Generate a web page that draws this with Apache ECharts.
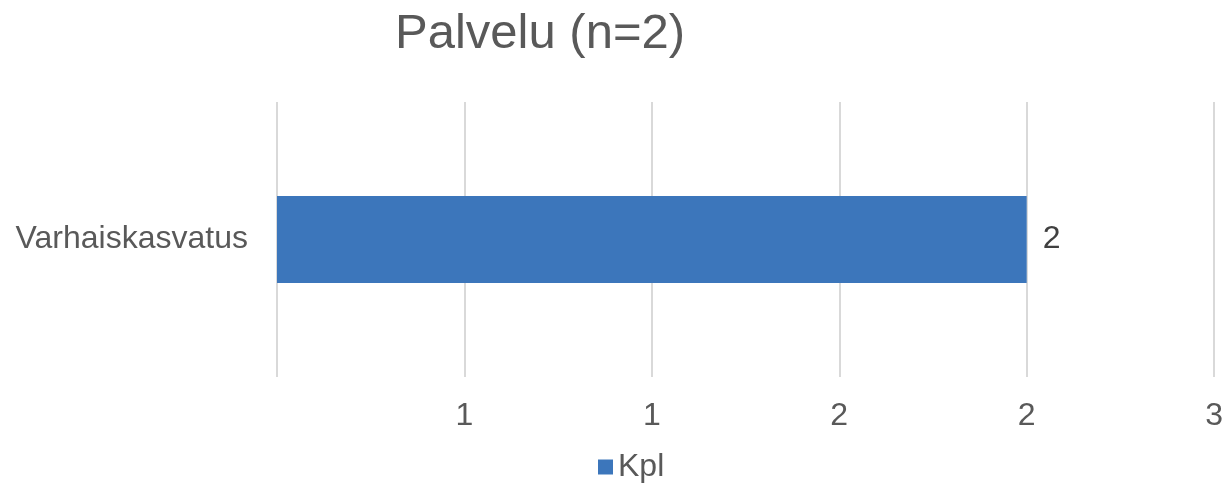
<!DOCTYPE html>
<html>
<head>
<meta charset="utf-8">
<script src="https://cdn.jsdelivr.net/npm/echarts@6/dist/echarts.min.js"></script>
<style>
    html, body { margin: 0; padding: 0; background: #fff; }
    #chart { width: 1226px; height: 492px; }
</style>
</head>
<body>
<div id="chart"></div>
<script>
// data
var categories = ['Varhaiskasvatus'];
var kplValues = [2];
var tickLabels = ['', '1', '1', '2', '2', '3'];

var tickStep = 0.5;

var chart = echarts.init(document.getElementById('chart'));
chart.setOption({
    animation: false,
    title: {
        text: 'Palvelu (n=2)',
        left: 395,
        top: 10,
        padding: 0,
        textStyle: {
            fontFamily: 'Liberation Sans',
            fontSize: 49,
            fontWeight: 'normal',
            color: '#595959'
        }
    },
    legend: {
        data: ['Kpl'],
        top: 451,
        left: 598,
        padding: 0,
        itemWidth: 15,
        itemHeight: 15,
        itemGap: 7,
        icon: 'rect',
        textStyle: {
            fontFamily: 'Liberation Sans',
            fontSize: 32,
            color: '#595959'
        }
    },
    grid: {
        left: 277,
        right: 10,
        top: 102,
        bottom: 115
    },
    xAxis: {
        type: 'value',
        min: 0,
        max: 2.5,
        interval: tickStep,
        axisLine: { show: false },
        axisTick: { show: false },
        splitLine: { lineStyle: { color: '#d9d9d9', width: 2 } },
        axisLabel: {
            margin: 23,
            fontFamily: 'Liberation Sans',
            fontSize: 32,
            color: '#595959',
            formatter: function (value) {
                var idx = Math.round(value / tickStep);
                return tickLabels[idx] || '';
            }
        }
    },
    yAxis: {
        type: 'category',
        data: categories,
        axisLine: { show: false },
        axisTick: { show: false },
        axisLabel: {
            margin: 29,
            fontFamily: 'Liberation Sans',
            fontSize: 32,
            color: '#595959'
        }
    },
    series: [{
        name: 'Kpl',
        type: 'bar',
        data: kplValues,
        barWidth: 87,
        itemStyle: { color: '#3c76bb' },
        label: {
            show: true,
            position: 'right',
            distance: 16,
            fontFamily: 'Liberation Sans',
            fontSize: 32,
            color: '#404040'
        }
    }]
});
</script>
</body>
</html>
